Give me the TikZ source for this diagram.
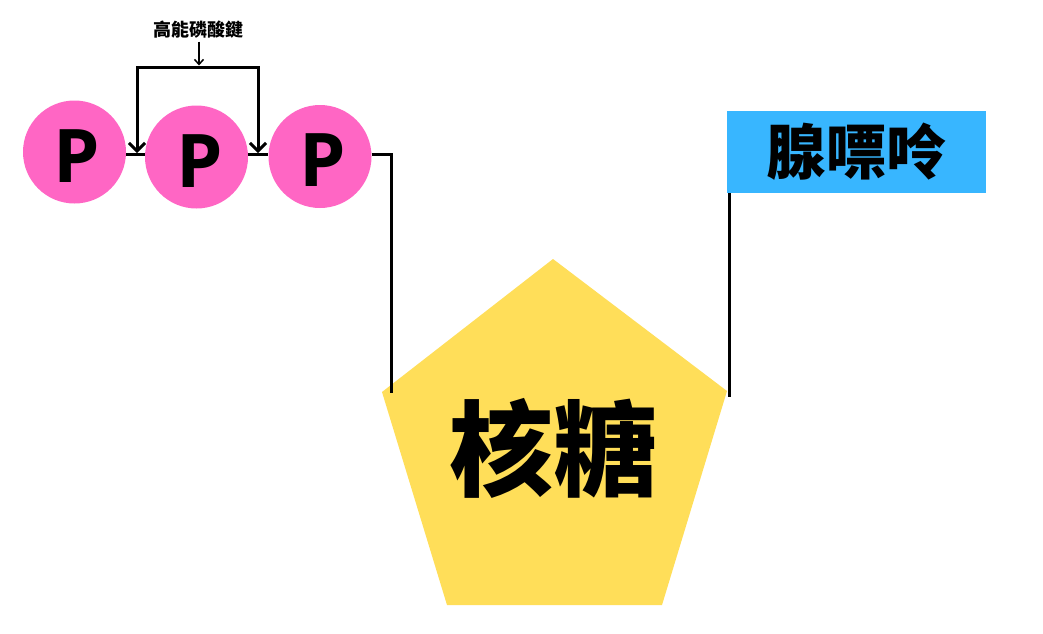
\documentclass[tikz,border=0pt]{standalone}
\usepackage{fontspec}
\newfontfamily\cjk{Noto Sans CJK TC}
\newfontfamily\pfont{Open Sans}
\usetikzlibrary{arrows.meta}
\definecolor{pinkP}{HTML}{FF66C4}
\definecolor{sugarY}{HTML}{FFDE59}
\definecolor{baseB}{HTML}{38B6FF}
\begin{document}
\begin{tikzpicture}[x=1pt,y=-1pt,
  phos/.style={circle,fill=pinkP,minimum size=103pt,inner sep=0pt},
  ptext/.style={inner sep=0pt,font=\pfont\bfseries\fontsize{74}{74}\selectfont},
  link/.style={line width=3pt,line join=miter},
  bond/.style={line width=3pt,line join=miter,
    {Straight Barb[length=8pt,width=16pt]}-{Straight Barb[length=8pt,width=16pt]}},
  small/.style={line width=1.5pt,-{Straight Barb[length=5pt,width=9pt]}}]
\useasboundingbox (0,0) rectangle (1043,633);
\fill[white] (0,0) rectangle (1043,633);
% phosphates
\node[phos] (p1) at (74.5,152) {};
\node[phos] (p2) at (196.5,157) {};
\node[phos] (p3) at (320,156.5) {};
\node[ptext] (p1t) at ([shift={(2.5,4)}]p1.center) {P};
\node[ptext] (p2t) at ([shift={(3.5,4)}]p2.center) {P};
\node[ptext] (p3t) at ([shift={(3,4)}]p3.center) {P};
\draw[link] (p1.east |- 0,154) -- (p2.west |- 0,154);
\draw[link] (p2.east |- 0,154) -- (p3.west |- 0,154);
% sugar
\fill[sugarY] (553,259) coordinate (top) -- (727,391) coordinate (ur)
  -- (662,605) coordinate (lr) -- (447,605) coordinate (ll)
  -- (382,392) coordinate (ul) -- cycle;
\node[font=\cjk\bfseries\fontsize{104}{104}\selectfont] (sugar) at (553.5,448) {核糖};
% base
\node[fill=baseB,minimum width=259pt,minimum height=82pt,inner sep=0pt,
  font=\cjk\bfseries\fontsize{60}{60}\selectfont] (base) at (856.5,152) {腺嘌呤};
% connectors
\coordinate (sj) at (391,393);
\coordinate (bj) at (729,397);
\draw[link] (p3.east |- 0,154) -| (sj);
\draw[link] (bj |- base.south) -- (bj);
% high-energy bonds
\coordinate (bl) at (137,153);
\coordinate (tl) at (137,67);
\coordinate (tr) at (258,67);
\coordinate (br) at (258,153);
\draw[bond] (bl) -- (tl) -- (tr) -- (br);
\node[font=\cjk\bfseries\fontsize{18}{18}\selectfont] (hb) at (198.5,29.5) {高能磷酸鍵};
\coordinate (ha) at (199,65.5);
\draw[small] (hb.south -| ha) -- (ha);
\end{tikzpicture}
\end{document}
